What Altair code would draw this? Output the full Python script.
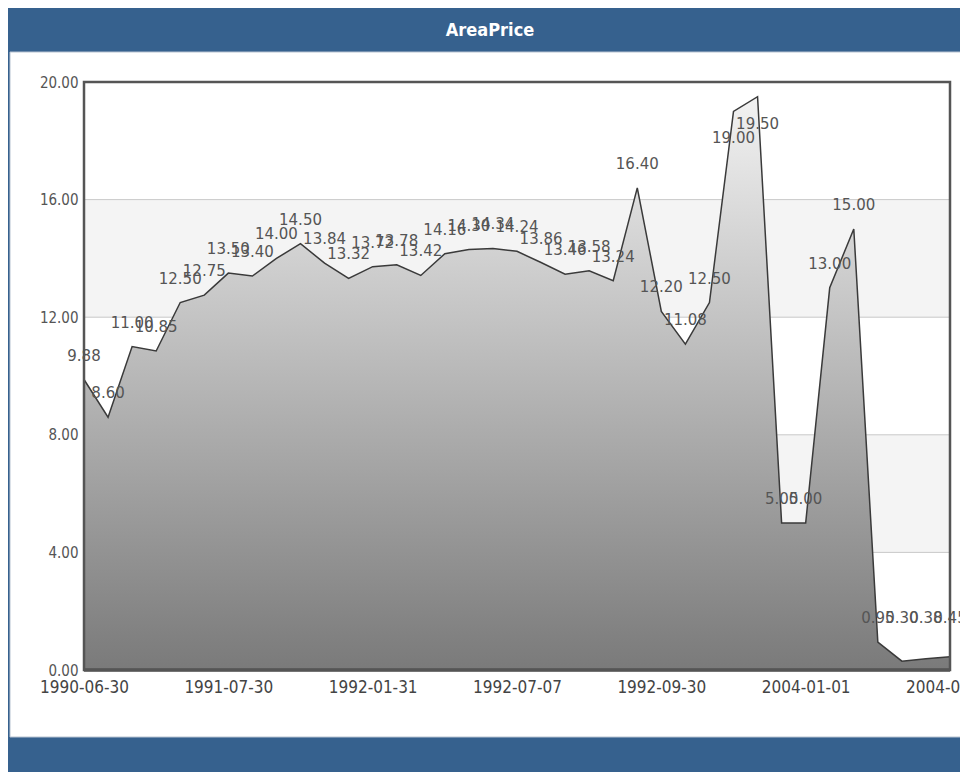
import altair as alt
import pandas as pd

# ---- data ----
title_text = ["AreaPrice"]
prices = [9.88, 8.60, 11.00, 10.85, 12.50, 12.75, 13.50, 13.40, 14.00, 14.50,
          13.84, 13.32, 13.72, 13.78, 13.42, 14.16, 14.30, 14.34, 14.24, 13.86,
          13.46, 13.58, 13.24, 16.40, 12.20, 11.08, 12.50, 19.00, 19.50, 5.00,
          5.00, 13.00, 15.00, 0.95, 0.30, 0.38, 0.45]
tick_positions = [0, 6, 12, 18, 24, 30, 36]
tick_labels = ["1990-06-30", "1991-07-30", "1992-01-31", "1992-07-07",
               "1992-09-30", "2004-01-01", "2004-09-30"]
band_lo = [4, 12]
band_hi = [8, 16]
grid_values = [4, 8, 12, 16]
y_ticks = [0, 4, 8, 12, 16, 20]

LABEL_FLOOR = 0.95    # labels never sit lower than this level
LABEL_FLIP = 18.5     # labels above this level are drawn under the point

df = pd.DataFrame({"idx": list(range(len(prices))), "price": prices})
bands = pd.DataFrame({"lo": band_lo, "hi": band_hi})
grid = pd.DataFrame({"g": grid_values})
one = pd.DataFrame({"t": title_text})

W, H = 866, 588
BLUE = "#36618e"
COND = "DejaVu Sans Condensed, Liberation Sans Narrow, DejaVu Sans"

label_arr = "[" + ",".join('"%s"' % s for s in tick_labels) + "]"
pos_arr = "[" + ",".join(str(p) for p in tick_positions) + "]"
label_expr = label_arr + "[indexof(" + pos_arr + ", datum.value)]"

xscale = alt.Scale(domain=[0, len(prices) - 1], nice=False, zero=False)
yscale = alt.Scale(domain=[0, 20], nice=False, zero=True)

x_axis = alt.Axis(values=tick_positions, labelExpr=label_expr, title=None,
                  domain=False, ticks=False, grid=False, labelPadding=9,
                  labelFont=COND, labelFontSize=17, labelColor="#444444",
                  labelFlush=False, labelOverlap=False, zindex=1)
y_axis = alt.Axis(values=y_ticks, format=".2f", title=None, domain=False,
                  ticks=False, grid=False, labelPadding=6, labelFont=COND,
                  labelFontSize=15, labelColor="#555555", zindex=1)

panel = alt.Chart(one).mark_rect(fill="white", stroke="#b7c3d1", strokeWidth=1).encode(
    x=alt.value(-74), x2=alt.value(W + 40), y=alt.value(-30), y2=alt.value(H + 67))

title = alt.Chart(one).mark_text(color="white", font=COND, fontSize=18,
                                 fontWeight="bold", baseline="middle").encode(
    x=alt.value(406), y=alt.value(-51), text="t:N")

band = alt.Chart(bands).mark_rect(fill="#f4f4f4").encode(
    x=alt.value(0), x2=alt.value(W),
    y=alt.Y("lo:Q", scale=yscale, axis=y_axis), y2="hi:Q")

gridlines = alt.Chart(grid).mark_rule(color="#c9c9c9", strokeWidth=1).encode(
    x=alt.value(0), x2=alt.value(W), y=alt.Y("g:Q", scale=yscale))

area = alt.Chart(df).mark_area(
    color=alt.Gradient(gradient="linear",
                       stops=[alt.GradientStop(color="#f2f2f2", offset=0),
                              alt.GradientStop(color="#7a7a7a", offset=1)],
                       x1=1, x2=1, y1=0, y2=1)
).encode(x=alt.X("idx:Q", scale=xscale, axis=x_axis),
         y=alt.Y("price:Q", scale=yscale))

line = alt.Chart(df).mark_line(color="#3a3a3a", strokeWidth=1.5).encode(
    x=alt.X("idx:Q", scale=xscale), y=alt.Y("price:Q", scale=yscale))

label_base = alt.Chart(df).transform_calculate(
    ly="max(datum.price, %f)" % LABEL_FLOOR)

labels_above = label_base.transform_filter(
    "datum.price <= %f" % LABEL_FLIP).mark_text(
    font="DejaVu Sans", fontSize=15, color="#555555", baseline="middle", dy=-24).encode(
    x=alt.X("idx:Q", scale=xscale), y=alt.Y("ly:Q", scale=yscale),
    text=alt.Text("price:Q", format=".2f"))

labels_below = label_base.transform_filter(
    "datum.price > %f" % LABEL_FLIP).mark_text(
    font="DejaVu Sans", fontSize=15, color="#555555", baseline="middle", dy=27).encode(
    x=alt.X("idx:Q", scale=xscale), y=alt.Y("ly:Q", scale=yscale),
    text=alt.Text("price:Q", format=".2f"))

border = alt.Chart(one).mark_rect(fill=None, stroke="#555555", strokeWidth=2.5).encode(
    x=alt.value(0), x2=alt.value(W), y=alt.value(0), y2=alt.value(H))

bottom = alt.Chart(one).mark_rule(color="#555555", strokeWidth=3.5).encode(
    x=alt.value(0), x2=alt.value(W), y=alt.value(H))

chart = alt.layer(panel, title, band, gridlines, area, line, labels_above,
                  labels_below, border, bottom).properties(
    width=W, height=H,
    autosize=alt.AutoSizeParams(type="none"),
    padding={"left": 76, "top": 74, "right": 10, "bottom": 102},
    background=BLUE,
).configure_view(stroke=None)

chart.save("out.html", embed_options={"renderer": "svg", "actions": False})
